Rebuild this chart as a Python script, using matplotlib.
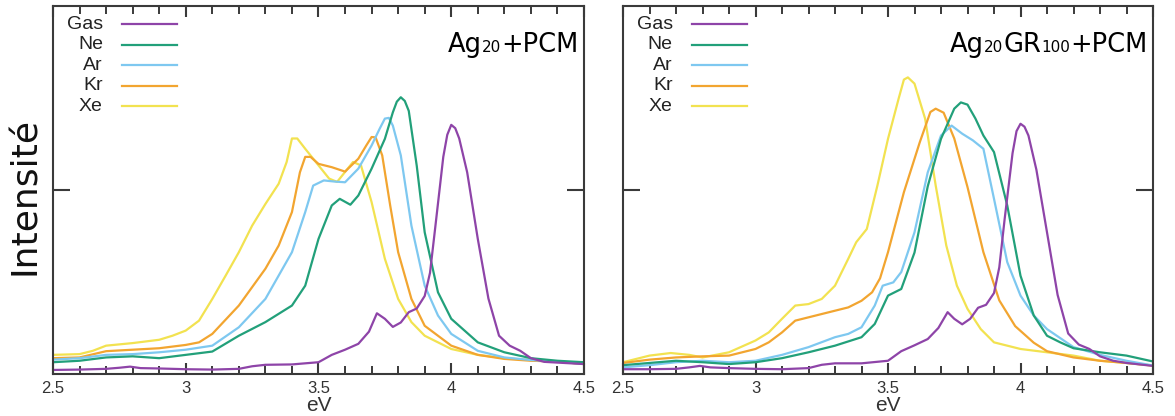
import numpy as np
import matplotlib.pyplot as plt

# gases and colours
gases = ['Gas', 'Ne', 'Ar', 'Kr', 'Xe']
colors = ['#8e44a8', '#22a07a', '#7ec8f0', '#f2a530', '#f2e250']

# ---- left panel: Ag20 + PCM ----
gas_L_x = [2.5, 2.6, 2.7, 2.75, 2.79, 2.83, 2.9, 3.0, 3.1, 3.2, 3.25, 3.3, 3.4, 3.5, 3.55, 3.6, 3.65, 3.69, 3.72,
           3.75, 3.78, 3.81, 3.84, 3.87, 3.9, 3.92, 3.94, 3.97, 3.985, 4.0, 4.015, 4.03, 4.06, 4.1, 4.14, 4.18, 4.22,
           4.26, 4.3, 4.35, 4.4, 4.5]
gas_L_y = [0.011, 0.012, 0.014, 0.017, 0.020, 0.016, 0.015, 0.013, 0.012, 0.014, 0.021, 0.025, 0.026, 0.032, 0.052,
           0.066, 0.082, 0.115, 0.165, 0.150, 0.128, 0.140, 0.168, 0.178, 0.212, 0.275, 0.400, 0.590, 0.650, 0.677,
           0.668, 0.640, 0.548, 0.367, 0.205, 0.104, 0.077, 0.063, 0.043, 0.033, 0.031, 0.027]

ne_L_x = [2.5, 2.6, 2.7, 2.8, 2.9, 3.0, 3.1, 3.2, 3.3, 3.4, 3.45, 3.5, 3.55, 3.58, 3.62, 3.65, 3.7, 3.75, 3.78, 3.795,
          3.81, 3.825, 3.84, 3.87, 3.9, 3.95, 4.0, 4.1, 4.2, 4.3, 4.4, 4.5]
ne_L_y = [0.032, 0.036, 0.045, 0.048, 0.043, 0.052, 0.061, 0.104, 0.141, 0.186, 0.240, 0.367, 0.458, 0.476, 0.460,
          0.485, 0.558, 0.639, 0.711, 0.740, 0.752, 0.742, 0.715, 0.566, 0.385, 0.222, 0.150, 0.086, 0.059, 0.043,
          0.036, 0.032]

ar_L_x = [2.5, 2.6, 2.7, 2.8, 2.9, 3.0, 3.1, 3.2, 3.3, 3.4, 3.45, 3.48, 3.52, 3.56, 3.6, 3.65, 3.7, 3.73, 3.75, 3.765,
          3.78, 3.81, 3.85, 3.9, 3.95, 4.0, 4.1, 4.2, 4.3, 4.4, 4.5]
ar_L_y = [0.039, 0.043, 0.052, 0.054, 0.059, 0.066, 0.077, 0.127, 0.204, 0.331, 0.440, 0.512, 0.526, 0.523, 0.521,
          0.558, 0.621, 0.666, 0.694, 0.696, 0.675, 0.594, 0.403, 0.240, 0.159, 0.109, 0.063, 0.045, 0.038, 0.034,
          0.027]

kr_L_x = [2.5, 2.6, 2.7, 2.8, 2.9, 3.0, 3.05, 3.1, 3.2, 3.3, 3.35, 3.4, 3.43, 3.45, 3.47, 3.5, 3.55, 3.6, 3.65, 3.68,
          3.70, 3.715, 3.74, 3.77, 3.8, 3.85, 3.9, 4.0, 4.1, 4.2, 4.3, 4.4, 4.5]
kr_L_y = [0.043, 0.045, 0.062, 0.066, 0.070, 0.079, 0.086, 0.109, 0.186, 0.286, 0.349, 0.440, 0.548, 0.590, 0.590,
          0.571, 0.562, 0.550, 0.585, 0.621, 0.644, 0.643, 0.594, 0.458, 0.331, 0.204, 0.131, 0.077, 0.052, 0.041,
          0.036, 0.034, 0.027]

xe_L_x = [2.5, 2.6, 2.65, 2.7, 2.8, 2.9, 2.95, 3.0, 3.05, 3.1, 3.15, 3.2, 3.25, 3.3, 3.35, 3.38, 3.40, 3.42, 3.45,
          3.5, 3.54, 3.57, 3.6, 3.63, 3.66, 3.7, 3.75, 3.8, 3.85, 3.9, 4.0, 4.1, 4.2, 4.3, 4.4, 4.5]
xe_L_y = [0.052, 0.054, 0.063, 0.077, 0.084, 0.093, 0.104, 0.118, 0.145, 0.204, 0.267, 0.331, 0.403, 0.462, 0.517,
          0.576, 0.640, 0.640, 0.612, 0.567, 0.531, 0.522, 0.549, 0.576, 0.567, 0.467, 0.313, 0.204, 0.141, 0.104,
          0.068, 0.052, 0.043, 0.038, 0.034, 0.027]

# ---- right panel: Ag20GR100 + PCM ----
gas_R_x = [2.5, 2.6, 2.7, 2.75, 2.79, 2.83, 2.9, 3.0, 3.1, 3.2, 3.25, 3.3, 3.4, 3.5, 3.55, 3.6, 3.65, 3.69, 3.725,
           3.75, 3.78, 3.81, 3.84, 3.87, 3.9, 3.92, 3.94, 3.97, 3.985, 4.0, 4.015, 4.03, 4.06, 4.1, 4.14, 4.18, 4.22,
           4.26, 4.3, 4.35, 4.4, 4.5]
gas_R_y = [0.013, 0.013, 0.014, 0.018, 0.022, 0.018, 0.016, 0.014, 0.013, 0.016, 0.025, 0.029, 0.029, 0.036, 0.062,
           0.078, 0.095, 0.125, 0.168, 0.150, 0.135, 0.150, 0.180, 0.188, 0.220, 0.290, 0.420, 0.600, 0.660, 0.680,
           0.672, 0.648, 0.555, 0.385, 0.215, 0.110, 0.080, 0.068, 0.048, 0.036, 0.030, 0.022]

ne_R_x = [2.5, 2.6, 2.7, 2.8, 2.9, 3.0, 3.1, 3.2, 3.3, 3.4, 3.45, 3.5, 3.55, 3.6, 3.65, 3.7, 3.75, 3.775, 3.8, 3.83,
          3.86, 3.9, 3.95, 4.0, 4.05, 4.1, 4.15, 4.2, 4.3, 4.4, 4.5]
ne_R_y = [0.024, 0.030, 0.036, 0.032, 0.027, 0.032, 0.043, 0.059, 0.077, 0.100, 0.136, 0.213, 0.231, 0.330, 0.510,
          0.639, 0.721, 0.738, 0.732, 0.694, 0.648, 0.603, 0.458, 0.267, 0.159, 0.104, 0.086, 0.070, 0.059, 0.050,
          0.034]

ar_R_x = [2.5, 2.6, 2.7, 2.8, 2.9, 3.0, 3.1, 3.2, 3.3, 3.35, 3.4, 3.45, 3.48, 3.52, 3.55, 3.6, 3.65, 3.7, 3.74, 3.78,
          3.82, 3.86, 3.9, 3.95, 4.0, 4.05, 4.1, 4.2, 4.3, 4.4, 4.5]
ar_R_y = [0.018, 0.024, 0.032, 0.036, 0.032, 0.036, 0.052, 0.073, 0.100, 0.109, 0.127, 0.186, 0.240, 0.249, 0.277,
          0.385, 0.548, 0.648, 0.675, 0.653, 0.635, 0.612, 0.476, 0.304, 0.213, 0.159, 0.122, 0.073, 0.052, 0.036,
          0.023]

kr_R_x = [2.5, 2.6, 2.7, 2.8, 2.9, 3.0, 3.05, 3.1, 3.15, 3.2, 3.3, 3.35, 3.4, 3.44, 3.47, 3.5, 3.56, 3.62, 3.66,
          3.68, 3.71, 3.75, 3.8, 3.86, 3.92, 3.98, 4.05, 4.1, 4.2, 4.3, 4.4, 4.5]
kr_R_y = [0.030, 0.039, 0.045, 0.048, 0.050, 0.068, 0.086, 0.113, 0.145, 0.154, 0.172, 0.181, 0.199, 0.222, 0.260,
          0.331, 0.494, 0.630, 0.712, 0.721, 0.710, 0.640, 0.508, 0.331, 0.200, 0.130, 0.085, 0.062, 0.045, 0.036,
          0.030, 0.023]

xe_R_x = [2.5, 2.6, 2.68, 2.75, 2.8, 2.9, 3.0, 3.05, 3.1, 3.15, 3.2, 3.25, 3.3, 3.35, 3.38, 3.42, 3.46, 3.5, 3.54,
          3.56, 3.575, 3.6, 3.64, 3.68, 3.72, 3.76, 3.8, 3.85, 3.9, 4.0, 4.1, 4.2, 4.3, 4.4, 4.5]
xe_R_y = [0.032, 0.050, 0.057, 0.052, 0.045, 0.059, 0.091, 0.113, 0.150, 0.186, 0.190, 0.204, 0.240, 0.313, 0.358,
          0.394, 0.512, 0.639, 0.748, 0.800, 0.806, 0.789, 0.694, 0.512, 0.349, 0.240, 0.177, 0.122, 0.086, 0.068,
          0.059, 0.050, 0.036, 0.030, 0.023]

left_data = [(gas_L_x, gas_L_y), (ne_L_x, ne_L_y), (ar_L_x, ar_L_y), (kr_L_x, kr_L_y), (xe_L_x, xe_L_y)]
right_data = [(gas_R_x, gas_R_y), (ne_R_x, ne_R_y), (ar_R_x, ar_R_y), (kr_R_x, kr_R_y), (xe_R_x, xe_R_y)]

frame_col = '#3a3a3a'


def draw_panel(ax, data):
    # Xe first, Gas last, like the original
    for i in [4, 3, 2, 1, 0]:
        x, y = data[i]
        ax.plot(x, y, color=colors[i], lw=1.6, solid_joinstyle='round', solid_capstyle='round')

    ax.set_xlim(2.5, 4.5)
    ax.set_ylim(0, 1)
    ax.set_xticks([2.5, 3.0, 3.5, 4.0, 4.5])
    ax.set_xticklabels(['2.5', '3', '3.5', '4', '4.5'])
    ax.set_xticks(np.arange(2.6, 4.45, 0.1), minor=True)
    ax.set_yticks([0.5])
    ax.set_yticklabels([])
    ax.tick_params(axis='x', which='major', direction='in', top=True, bottom=True, length=8, width=1.5,
                   color=frame_col, pad=5, labelsize=12, labelcolor='#333333')
    ax.tick_params(axis='x', which='minor', direction='in', top=True, bottom=True, length=5.5, width=1.4,
                   color=frame_col)
    ax.tick_params(axis='y', which='major', direction='in', left=True, right=True, length=12, width=1.5,
                   color=frame_col)
    for lab in ax.get_xticklabels():
        lab.set_fontfamily('Liberation Sans')
    for s in ax.spines.values():
        s.set_color(frame_col)
        s.set_linewidth(1.5)
    ax.set_xlabel('eV', fontfamily='Liberation Sans', fontsize=15, color='#333333', labelpad=0)

    # legend drawn by hand: labels right aligned, line sample to the right
    for k, name in enumerate(gases):
        yy = 0.951 - k * 0.0557
        ax.text(0.094, yy, name, transform=ax.transAxes, ha='right', va='center',
                fontfamily='Liberation Sans', fontsize=14, color='#222222')
        ax.plot([0.130, 0.234], [yy, yy], transform=ax.transAxes, color=colors[k], lw=1.6)


fig = plt.figure(figsize=(11.75, 4.16), dpi=100)
axL = fig.add_axes([53 / 1175, 42 / 416, 531 / 1175, 368 / 416])
axR = fig.add_axes([623 / 1175, 42 / 416, 530 / 1175, 368 / 416])

draw_panel(axL, left_data)
draw_panel(axR, right_data)


def label_parts(ax, parts):
    # build the label from right to left so it ends near the right frame
    fig.canvas.draw()
    r = fig.canvas.get_renderer()
    x = 0.989
    inv = ax.transAxes.inverted()
    for txt, size in reversed(parts):
        t = ax.text(x, 0.875, txt, transform=ax.transAxes, ha='right', va='baseline',
                    fontfamily='DejaVu Sans', fontsize=size, color='black')
        bb = t.get_window_extent(renderer=r)
        x = inv.transform((bb.x0, bb.y0))[0]


label_parts(axL, [('Ag', 18.5), ('20', 11), ('+PCM', 18.5)])
label_parts(axR, [('Ag', 18.5), ('20', 11), ('GR', 18.5), ('100', 11), ('+PCM', 18.5)])

fig.text(25 / 1175, 1 - 196 / 416, 'Intensité', rotation=90, ha='center', va='center',
         fontfamily='DejaVu Sans', fontsize=26, color='#111111')

plt.savefig('out.png', dpi=100)
